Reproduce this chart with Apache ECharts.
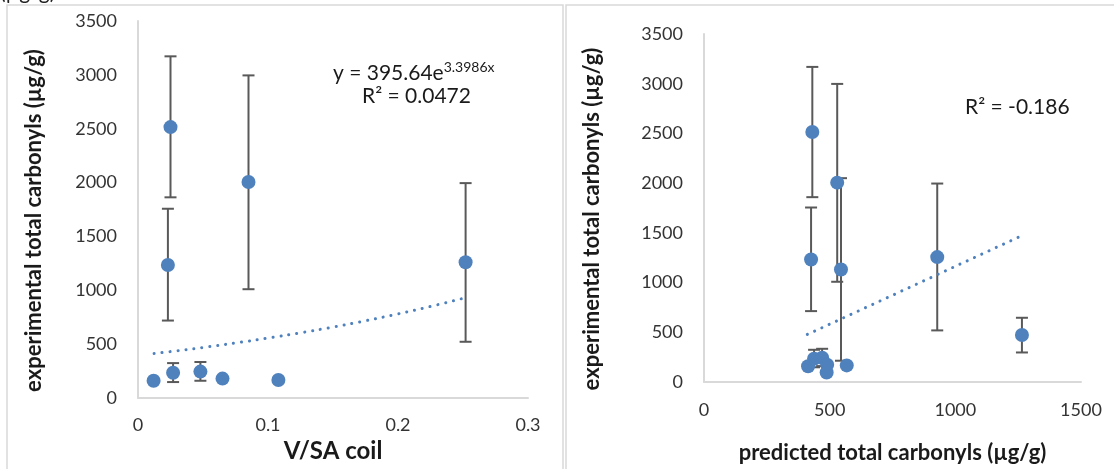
<!DOCTYPE html>
<html>
<head>
<meta charset="utf-8">
<script src="https://cdn.jsdelivr.net/npm/echarts@6/dist/echarts.min.js"></script>
<style>
html,body{margin:0;padding:0;background:#fff;}
#c{width:1114px;height:469px;}
</style>
</head>
<body>
<div id="c"></div>
<script>
// ---- Left panel: V/SA coil vs experimental total carbonyls ----
var leftX    = [0.012, 0.027, 0.025, 0.023, 0.048, 0.065, 0.085, 0.108, 0.252];
var leftY    = [160, 235, 2515, 1235, 245, 180, 2005, 167, 1260];
var leftLow  = [null, 148, 1863, 719, 160, null, 1010, null, 522];
var leftHigh = [null, 324, 3172, 1757, 334, null, 2995, null, 1995];
// exponential trendline (y = 395.64e^3.3986x)
var leftTrendX = [0.0124, 0.025, 0.05, 0.075, 0.1, 0.125, 0.15, 0.175, 0.2, 0.225, 0.2516];
var leftTrendY = [413, 431, 469, 511, 556, 605, 659, 717, 781, 850, 930];

// ---- Right panel: predicted vs experimental total carbonyls ----
var rightX    = [431, 426, 530, 545, 928, 1265, 414, 438, 470, 490, 488, 568];
var rightY    = [2515, 1232, 2005, 1132, 1256, 472, 159, 234, 244, 174, 95, 167];
var rightLow  = [1859, 713, 1008, 214, 519, 297, null, 148, 160, null, null, null];
var rightHigh = [3169, 1755, 2998, 2050, 1996, 646, null, 324, 334, null, null, null];
var rightTrendX = [411, 1252];
var rightTrendY = [478, 1457];

var leftXTicks = [0, 0.1, 0.2, 0.3];
var rightXTicks = [0, 500, 1000, 1500];
var yTicks = [0, 500, 1000, 1500, 2000, 2500, 3000, 3500];

var leftEq = 'y = 395.64e';
var leftEqExp = '3.3986x';
var leftR2 = 'R² = 0.0472';
var rightR2 = 'R² = -0.186';
var yTitle = 'experimental total carbonyls (µg/g)';
var leftXTitle = 'V/SA coil';
var rightXTitle = 'predicted total carbonyls (µg/g)';

var BLUE = '#4F81BD';
var FONT = 'Lato, "Noto Sans", sans-serif';

function zip(a, b) { return a.map(function (v, i) { return [v, b[i]]; }); }
function errData(x, y, lo, hi) {
  var out = [];
  for (var i = 0; i < x.length; i++) if (lo[i] != null) out.push([x[i], lo[i], hi[i]]);
  return out;
}
function errRender(params, api) {
  var x = api.value(0), lo = api.value(1), hi = api.value(2);
  var pLo = api.coord([x, lo]), pHi = api.coord([x, hi]);
  var w = 6;
  var st = { stroke: '#595959', lineWidth: 2 };
  return {
    type: 'group',
    children: [
      { type: 'line', shape: { x1: pLo[0], y1: pLo[1], x2: pHi[0], y2: pHi[1] }, style: st },
      { type: 'line', shape: { x1: pLo[0] - w, y1: pLo[1], x2: pLo[0] + w, y2: pLo[1] }, style: st },
      { type: 'line', shape: { x1: pHi[0] - w, y1: pHi[1], x2: pHi[0] + w, y2: pHi[1] }, style: st }
    ]
  };
}
function plain(v) { return String(+(+v).toFixed(2)); }

var axisLineStyle = { show: true, lineStyle: { color: '#d9d9d9', width: 2 } };
var tickLabel = { color: '#333', fontSize: 18, fontFamily: FONT, formatter: plain };
var titleStyle = { color: '#1a1a1a', fontSize: 22, fontWeight: 'bold', fontFamily: FONT };

function yAxisCfg(gridIndex, gap) {
  return {
    gridIndex: gridIndex, type: 'value', min: yTicks[0], max: yTicks[yTicks.length - 1], interval: yTicks[1] - yTicks[0],
    axisLine: axisLineStyle, axisTick: { show: false }, splitLine: { show: false },
    axisLabel: Object.assign({}, tickLabel, { margin: 21 }),
    name: yTitle, nameLocation: 'middle', nameGap: gap, nameRotate: 90,
    nameTextStyle: Object.assign({ padding: [0, 22, 0, 0] }, titleStyle)
  };
}

var trendLine = { color: BLUE, width: 3, type: [0.1, 7.9], cap: 'round' };

var option = {
  animation: false,
  backgroundColor: '#fff',
  grid: [
    { left: 138, right: 586, top: 21, bottom: 71 },
    { left: 704, right: 33, top: 34, bottom: 87 }
  ],
  xAxis: [
    {
      gridIndex: 0, type: 'value', min: leftXTicks[0], max: leftXTicks[3], interval: 0.1,
      axisLine: axisLineStyle, axisTick: { show: false }, splitLine: { show: false },
      axisLabel: Object.assign({}, tickLabel, { margin: 18 }),
      name: leftXTitle, nameLocation: 'middle', nameGap: 41,
      nameTextStyle: Object.assign({}, titleStyle, { fontSize: 24 })
    },
    {
      gridIndex: 1, type: 'value', min: rightXTicks[0], max: rightXTicks[3], interval: 500,
      axisLine: axisLineStyle, axisTick: { show: false }, splitLine: { show: false },
      axisLabel: Object.assign({}, tickLabel, { margin: 19 }),
      name: rightXTitle, nameLocation: 'middle', nameGap: 60,
      nameTextStyle: titleStyle
    }
  ],
  yAxis: [yAxisCfg(0, 93), yAxisCfg(1, 101)],
  series: [
    { type: 'custom', xAxisIndex: 0, yAxisIndex: 0, renderItem: errRender, data: errData(leftX, leftY, leftLow, leftHigh), z: 2, silent: true },
    { type: 'line', xAxisIndex: 0, yAxisIndex: 0, data: zip(leftTrendX, leftTrendY), smooth: true, showSymbol: false, lineStyle: trendLine, z: 3 },
    { type: 'scatter', xAxisIndex: 0, yAxisIndex: 0, data: zip(leftX, leftY), symbolSize: 14, itemStyle: { color: BLUE, opacity: 1 }, z: 4 },
    { type: 'custom', xAxisIndex: 1, yAxisIndex: 1, renderItem: errRender, data: errData(rightX, rightY, rightLow, rightHigh), z: 2, silent: true },
    { type: 'line', xAxisIndex: 1, yAxisIndex: 1, data: zip(rightTrendX, rightTrendY), showSymbol: false, lineStyle: trendLine, z: 3 },
    { type: 'scatter', xAxisIndex: 1, yAxisIndex: 1, data: zip(rightX, rightY), symbolSize: 14, itemStyle: { color: BLUE, opacity: 1 }, z: 4 }
  ],
  graphic: [
    { type: 'rect', shape: { x: 7, y: 5, width: 556, height: 480 }, style: { fill: 'none', stroke: '#d9d9d9', lineWidth: 1.5 }, z: -1 },
    { type: 'rect', shape: { x: 566, y: 5, width: 560, height: 480 }, style: { fill: 'none', stroke: '#d9d9d9', lineWidth: 1.5 }, z: -1 },
    { type: 'text', left: 0, top: -18, style: { text: '(µg/g)', font: '21px ' + FONT, fill: '#222' } },
    { type: 'text', x: 333, y: 72, style: {
        text: '{a|' + leftEq + '}{b|' + leftEqExp + '}',
        verticalAlign: 'middle',
        rich: {
          a: { fontSize: 21, fontFamily: FONT, fill: '#1a1a1a', lineHeight: 24, verticalAlign: 'bottom' },
          b: { fontSize: 14, fontFamily: FONT, fill: '#1a1a1a', lineHeight: 24, verticalAlign: 'top' }
        }
    } },
    { type: 'text', x: 362, y: 96, style: { text: leftR2, font: '21px ' + FONT, fill: '#1a1a1a', verticalAlign: 'middle' } },
    { type: 'text', x: 965, y: 107, style: { text: rightR2, font: '21px ' + FONT, fill: '#1a1a1a', verticalAlign: 'middle' } }
  ]
};

var chart = echarts.init(document.getElementById('c'), null, { renderer: 'canvas' });
chart.setOption(option);
</script>
</body>
</html>
